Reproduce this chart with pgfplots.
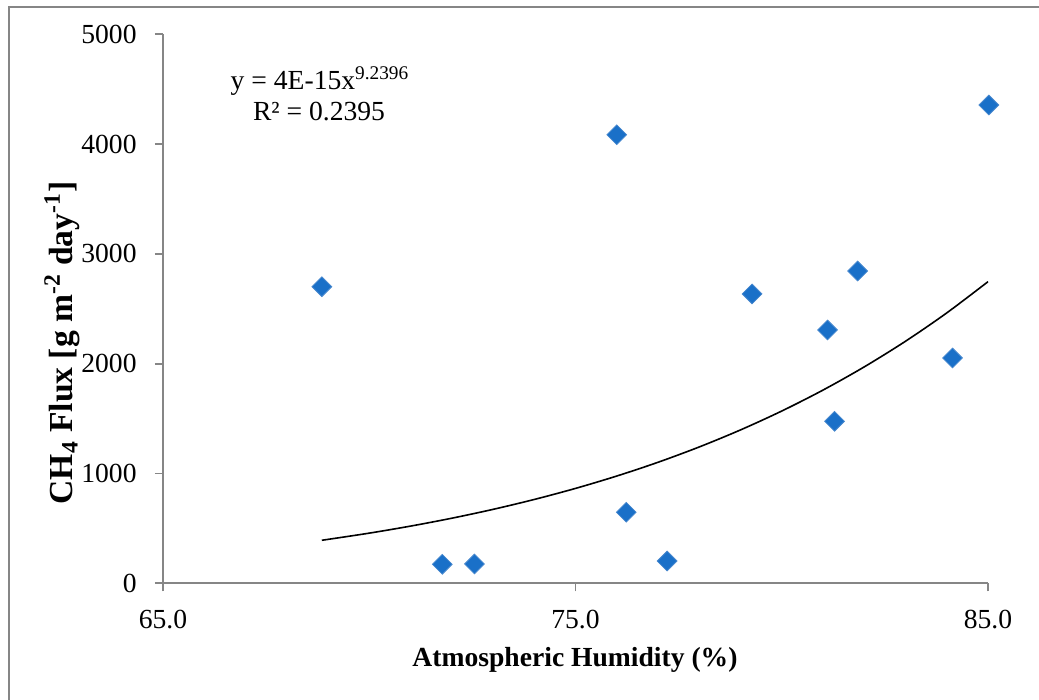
\documentclass[border=0pt]{standalone}
\usepackage{pgfplots}
\pgfplotsset{compat=1.18}
\usepackage{fontspec}
\setmainfont{Liberation Serif}
\definecolor{axisgray}{RGB}{134,134,134}
\definecolor{mkblue}{RGB}{26,112,200}
\definecolor{mkedge}{RGB}{72,136,206}
\begin{document}
\begin{tikzpicture}
\fontsize{13.8}{16}\selectfont
\useasboundingbox (0pt,0pt) rectangle (519.5pt,350pt);
\draw[axisgray, line width=0.8pt] (4.5pt,0pt) -- (4.5pt,346.5pt) -- (519.5pt,346.5pt);
\begin{axis}[
  at={(81.5pt,58.35pt)}, anchor=south west,
  scale only axis, width=412.5pt, height=274.5pt,
  xmin=65, xmax=85, ymin=0, ymax=5000,
  clip=false,
  axis x line*=bottom, axis y line*=left,
  axis line style={axisgray, line width=0.9pt},
  xtick={65,75,85}, ytick={0,1000,2000,3000,4000,5000},
  tick align=outside, major tick length=4pt,
  tick style={axisgray, line width=0.9pt},
  tick label style={font=\fontsize{13.8}{16}\selectfont},
  xticklabel style={/pgf/number format/.cd, fixed, fixed zerofill, precision=1, assume math mode=true, /tikz/.cd, anchor=north, inner sep=0pt, yshift=-9.35pt},
  yticklabel style={/pgf/number format/.cd, fixed, 1000 sep={}, assume math mode=true, /tikz/.cd, anchor=east, inner sep=0pt, xshift=-9pt},
  scaled ticks=false,
]
\addplot[only marks, mark=square*, mark size=3.5pt,
  mark options={rotate=45, fill=mkblue, draw=mkedge, line width=0.4pt}]
  coordinates {
  (68.85,2701) (71.77,173) (72.55,176) (76.00,4085) (76.23,647) (77.22,203)
  (79.28,2635) (81.11,2307) (81.28,1475) (81.84,2844) (84.14,2052) (85.02,4356)
  };
\addplot[black, line width=0.8pt, smooth, no marks]
  coordinates {
  (68.85,391.9) (69,400.0) (70,456.8) (71,520.8) (72,592.6) (73,673.2) (74,763.4)
  (75,864.2) (76,976.8) (77,1102.1) (78,1241.7) (79,1396.8) (80,1568.9)
  (81,1759.7) (82,1971.0) (83,2204.5) (84,2462.5) (85,2747.0)
  };
\end{axis}
\node[rotate=90, font=\fontsize{16.8}{19}\selectfont\bfseries] at (31pt,178.5pt) {CH\textsubscript{4} Flux [g m\textsuperscript{-2} day\textsuperscript{-1}]};
\node[font=\bfseries] at (287.5pt,20pt) {Atmospheric Humidity (\%)};
\node[anchor=base] at (160pt,305pt) {y = 4E-15x\textsuperscript{9.2396}};
\node[anchor=base] at (159.5pt,289.5pt) {R² = 0.2395};
\end{tikzpicture}
\end{document}
